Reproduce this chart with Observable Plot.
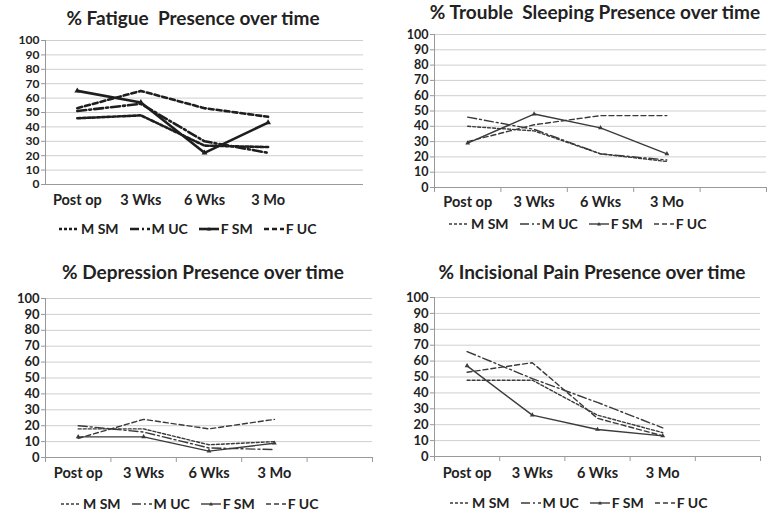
<!DOCTYPE html>
<html>
<head>
<meta charset="utf-8">
<script src="https://cdn.jsdelivr.net/npm/d3@7"></script>
<script src="https://cdn.jsdelivr.net/npm/@observablehq/plot@0.6"></script>
<style>
  html, body { margin: 0; padding: 0; background: #fff; }
  #root { position: relative; width: 768px; height: 519px; overflow: hidden; font-family: Lato, "DejaVu Sans", sans-serif; color: #222; }
  .title { position: absolute; font-weight: bold; font-size: 19px; line-height: 22px; white-space: nowrap; text-align: center; }
  .chart { position: absolute; }
  .legend { position: absolute; display: flex; align-items: center; gap: 10px; font-weight: bold; font-size: 14px; line-height: 16px; white-space: nowrap; }
  .legend .item { display: flex; align-items: center; gap: 1px; }
  .legend svg { display: block; }
</style>
</head>
<body>
<div id="root"></div>
<script>
// ---------- data ----------
const categories = ["Post op", "3 Wks", "6 Wks", "3 Mo"];
const seriesNames = ["M SM", "M UC", "F SM", "F UC"];
const yTicks = [0, 10, 20, 30, 40, 50, 60, 70, 80, 90, 100];

// values per series, in seriesNames order, across categories
const fatigue = [
  [46, 48, 27, 26],
  [51, 56, 30, 22],
  [65, 57, 22, 43],
  [53, 65, 53, 47]
];
const troubleSleeping = [
  [40, 37, 22, 17],
  [46, 38, 22, 18],
  [29, 48, 39, 22],
  [30, 41, 47, 47]
];
const depression = [
  [18, 18, 8, 10],
  [20, 16, 6, 5],
  [13, 13, 4, 9],
  [12, 24, 18, 24]
];
const incisionalPain = [
  [48, 48, 26, 15],
  [66, 49, 34, 18],
  [57, 26, 17, 13],
  [53, 59, 24, 13]
];

const titles = [
  "% Fatigue\u00a0 Presence over time",
  "% Trouble\u00a0 Sleeping Presence over time",
  "% Depression Presence over time",
  "% Incisional Pain Presence over time"
];

// ---------- styles ----------
const dashes = ["3,2", "9,3,2,3", null, "5,3"];

const root = document.getElementById("root");

function panel(cfg) {
  const { values, title, left, top, width, height, mt, mb, ml, mr,
          titleTop, titleCenter, legendTop, legendLeft, heavy, xTicks, labelPad, yFont } = cfg;
  const rows = seriesNames.flatMap((s, i) =>
    categories.map((c, j) => ({ series: s, time: c, idx: j, value: values[i][j] })));
  const lineColor = heavy ? "#1e1e1e" : "#3a3a3a";
  const sw = heavy ? 2.6 : 1.4;
  const slots = categories.length + 1;
  const boundaries = d3.range(slots + 1).map(i => i - 0.5);

  const marks = [
    Plot.gridY(yTicks, { stroke: "#cfcfcf", strokeOpacity: 1, strokeWidth: 1 }),
    Plot.axisY(yTicks, { label: null, tickSize: 4, tickPadding: 2, stroke: "#999", fontWeight: "bold", fontSize: yFont, fill: "#222" }),
    Plot.ruleX([-0.5], { stroke: "#999" }),
    Plot.ruleY([0], { stroke: "#999" }),
    Plot.axisX(d3.range(categories.length), {
      label: null, tickSize: 0, tickPadding: labelPad, tickFormat: i => categories[i],
      fontWeight: "bold", fontSize: 14.5, fill: "#222"
    })
  ];
  if (xTicks) marks.push(Plot.axisX(boundaries, { label: null, tickSize: 5, tickFormat: () => "", stroke: "#999" }));
  seriesNames.forEach((s, i) => {
    const d = rows.filter(r => r.series === s);
    marks.push(Plot.line(d, { x: "idx", y: "value", stroke: lineColor, strokeWidth: sw, strokeDasharray: dashes[i] }));
    if (s === "F SM") marks.push(Plot.dot(d, { x: "idx", y: "value", r: heavy ? 2.2 : 1.8, fill: lineColor, symbol: "triangle" }));
  });

  const svg = Plot.plot({
    width, height, marginTop: mt, marginBottom: mb, marginLeft: ml, marginRight: mr,
    style: { fontFamily: "Lato, 'DejaVu Sans', sans-serif", background: "transparent", overflow: "visible" },
    x: { type: "linear", domain: [-0.5, slots - 0.5], axis: null },
    y: { domain: [0, 100], axis: null },
    marks
  });
  const wrap = document.createElement("div");
  wrap.className = "chart";
  wrap.style.left = left + "px";
  wrap.style.top = top + "px";
  wrap.appendChild(svg);
  root.appendChild(wrap);

  const t = document.createElement("div");
  t.className = "title";
  t.textContent = title;
  t.style.top = titleTop + "px";
  t.style.left = (titleCenter - 250) + "px";
  t.style.width = "500px";
  root.appendChild(t);

  const lg = document.createElement("div");
  lg.className = "legend";
  lg.style.top = legendTop + "px";
  lg.style.left = legendLeft + "px";
  seriesNames.forEach((s, i) => {
    const item = document.createElement("div");
    item.className = "item";
    const ns = "http://www.w3.org/2000/svg";
    const sv = document.createElementNS(ns, "svg");
    sv.setAttribute("width", 22); sv.setAttribute("height", 10);
    const ln = document.createElementNS(ns, "line");
    ln.setAttribute("x1", 1); ln.setAttribute("x2", 21); ln.setAttribute("y1", 5); ln.setAttribute("y2", 5);
    ln.setAttribute("stroke", lineColor); ln.setAttribute("stroke-width", sw);
    if (dashes[i]) ln.setAttribute("stroke-dasharray", dashes[i]);
    sv.appendChild(ln);
    if (s === "F SM") {
      const c = document.createElementNS(ns, "path");
      c.setAttribute("d", "M11,3 L13,6.5 L9,6.5 Z");
      c.setAttribute("fill", lineColor);
      sv.appendChild(c);
    }
    item.appendChild(sv);
    const sp = document.createElement("span");
    sp.textContent = s;
    item.appendChild(sp);
    lg.appendChild(item);
  });
  root.appendChild(lg);
}

panel({ values: fatigue, title: titles[0], left: 0, top: 28, width: 384, height: 190,
  mt: 12, mb: 34, ml: 45, mr: 21, titleTop: 7, titleCenter: 193,
  legendTop: 221, legendLeft: 58, heavy: true, xTicks: false, labelPad: 10, yFont: 12 });
panel({ values: troubleSleeping, title: titles[1], left: 384, top: 24, width: 384, height: 195,
  mt: 10, mb: 32, ml: 50, mr: 2, titleTop: 1, titleCenter: 595,
  legendTop: 216, legendLeft: 448, heavy: false, xTicks: true, labelPad: 9, yFont: 12.5 });
panel({ values: depression, title: titles[2], left: 0, top: 285, width: 384, height: 210,
  mt: 13, mb: 38, ml: 45, mr: 12, titleTop: 261, titleCenter: 203,
  legendTop: 496, legendLeft: 60, heavy: false, xTicks: true, labelPad: 10, yFont: 13 });
panel({ values: incisionalPain, title: titles[3], left: 384, top: 285, width: 384, height: 210,
  mt: 12, mb: 39, ml: 50, mr: 8, titleTop: 261, titleCenter: 592,
  legendTop: 495, legendLeft: 449, heavy: false, xTicks: true, labelPad: 11, yFont: 13 });
</script>
</body>
</html>
